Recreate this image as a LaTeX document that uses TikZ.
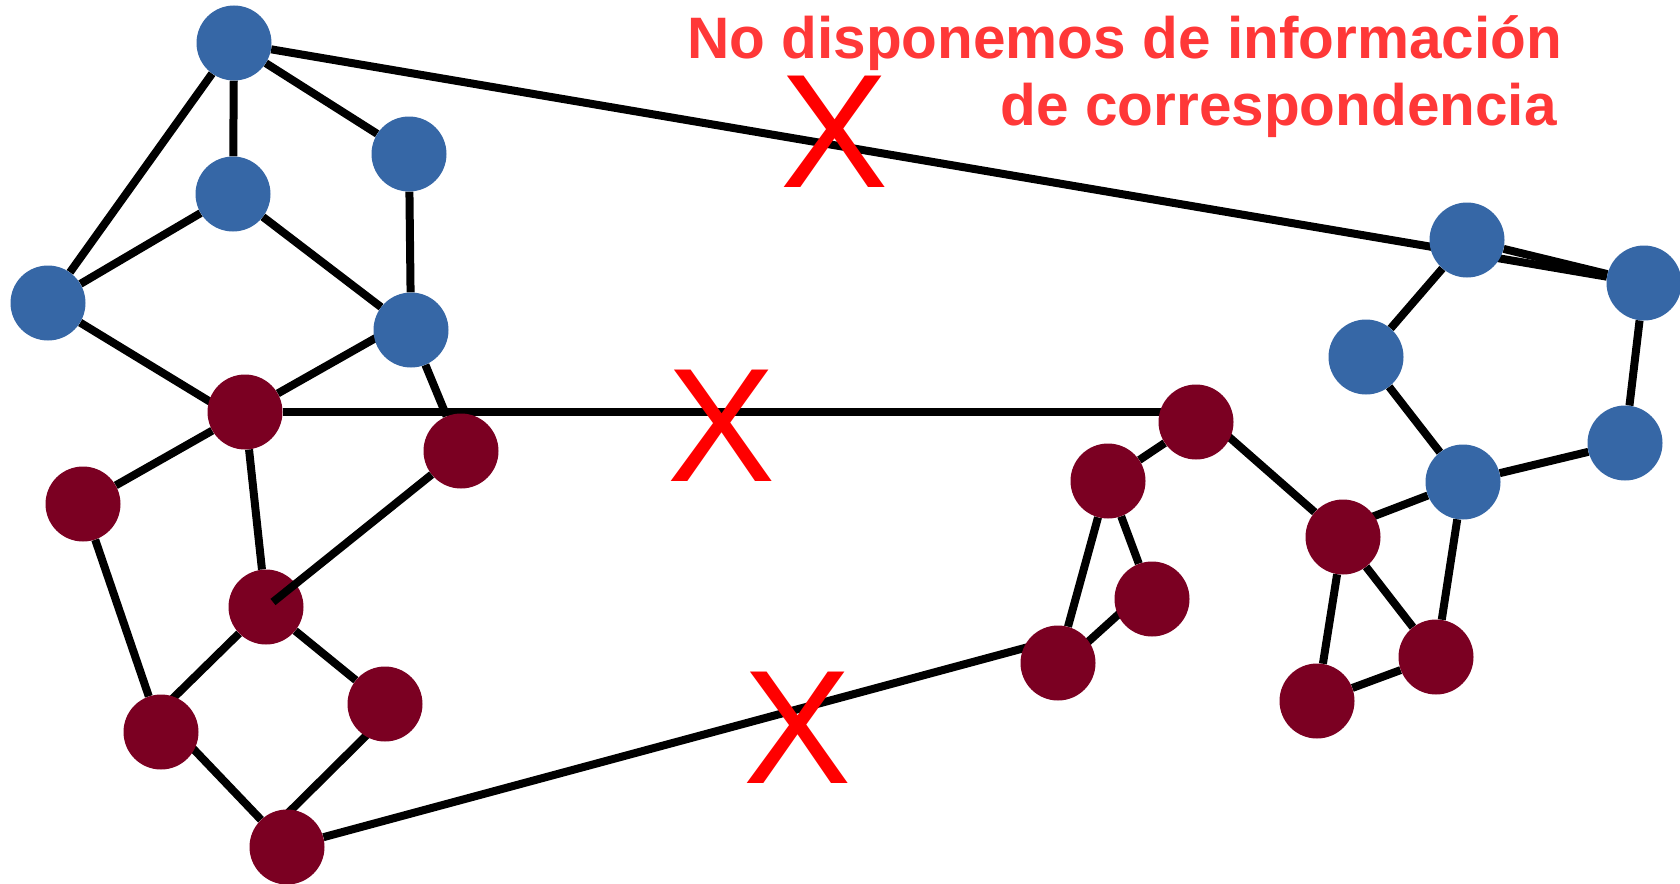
\documentclass[tikz,border=0pt]{standalone}
\usepackage{fontspec}
\setmainfont{Liberation Sans}
\usetikzlibrary{backgrounds, calc}

\definecolor{nodeblue}{RGB}{54,103,166}
\definecolor{nodered}{RGB}{123,0,34}
\definecolor{notered}{RGB}{255,56,56}

\begin{document}
\begin{tikzpicture}[x=1pt, y=-1pt,
    bluedot/.style={circle, fill=nodeblue, minimum size=75pt, inner sep=0pt},
    reddot/.style={circle, fill=nodered, minimum size=75pt, inner sep=0pt},
    link/.style={line width=8pt},
    cross/.style={text=red, inner sep=0pt, font=\fontsize{162}{162}\selectfont},
    note/.style={text=notered, inner sep=0pt, anchor=base east, font=\bfseries\fontsize{58.5}{66}\selectfont}]

    \useasboundingbox (0,0) rectangle (1680,883);

    % Blue graph, left
    \node [bluedot] (B1) at (234,43) {};
    \node [bluedot] (B2) at (409,154) {};
    \node [bluedot] (B3) at (233,194) {};
    \node [bluedot] (B4) at (48,303) {};
    \node [bluedot] (B5) at (411,330) {};

    % Blue graph, right
    \node [bluedot] (B6) at (1467,240) {};
    \node [bluedot] (B7) at (1644,283) {};
    \node [bluedot] (B8) at (1366,357) {};
    \node [bluedot] (B9) at (1625,443) {};
    \node [bluedot] (B10) at (1463,482) {};

    % Red graph, left
    \node [reddot] (R1) at (245,412) {};
    \node [reddot] (R2) at (461,451) {};
    \node [reddot] (R3) at (83,504) {};
    \node [reddot] (R4) at (266,607) {};
    \node [reddot] (R5) at (385,704) {};
    \node [reddot] (R6) at (161,732) {};
    \node [reddot] (R7) at (287,847) {};

    % Red graph, right
    \node [reddot] (R8) at (1196,422) {};
    \node [reddot] (R9) at (1108,481) {};
    \node [reddot] (R10) at (1152,599) {};
    \node [reddot] (R11) at (1058,663) {};
    \node [reddot] (R12) at (1343,537) {};
    \node [reddot] (R13) at (1436,657) {};
    \node [reddot] (R14) at (1317,701) {};

    \coordinate (r4end) at (273,602);
    \coordinate (r11end) at (1058,639);

    % Edges
    \begin{pgfonlayer}{background}
        \draw [link] (B1) -- (B2);
        \draw [link] (B1) -- (B3);
        \draw [link] (B1) -- (B4);
        \draw [link] (B3) -- (B4);
        \draw [link] (B3) -- (B5);
        \draw [link] (B2) -- (B5);
        \draw [link] (B4) -- ($(R1)+(0,11)$);
        \draw [link] ($(B5)+(0,-12)$) -- (R1);
        \draw [link] (B5) -- (R2);
        \draw [link] (B1) -- (B7);
        \draw [link] (B6) -- (B7);
        \draw [link] (B6) -- (B8);
        \draw [link] (B8) -- (B10);
        \draw [link] (B7) -- (B9);
        \draw [link] (B9) -- (B10);

        \draw [link] (R1) -- (R1 -| R8);
        \draw [link] (R1) -- (R3);
        \draw [link] (R1) -- (R4);
        \draw [link] (R3) -- (R6);
        \draw [link] (R4) -- ($(R6)+(0,-22)$);
        \draw [link] (R4) -- (R5);
        \draw [link] ($(R6)+(0,-17)$) -- (R7);
        \draw [link] ($(R5)+(0,13)$) -- ($(R7)+(-9,-24)$);
        \draw [link] (R7) -- (r11end);

        \draw [link] (R8) -- (R9);
        \draw [link] (R9) -- (R10);
        \draw [link] (R9) -- (R11);
        \draw [link] ($(R10)+(0,-15)$) -- ($(R11)+(0,6)$);
        \draw [link] ($(R8)+(0,-14)$) -- (R12);
        \draw [link] (R12) -- (R14);
        \draw [link] (R12) -- (R13);
        \draw [link] (R13) -- (R14);
        \draw [link] ($(R12)+(0,-9)$) -- (B10);
        \draw [link] (B10) -- (R13);
    \end{pgfonlayer}
    \draw [link] (R2) -- (r4end);

    % Crosses
    \node [cross] (X1) at (835,132) {X};
    \node [cross] (X2) at (722,426) {X};
    \node [cross] (X3) at (798,728) {X};

    % Note
    \node [note] (title1) at (1562,59) {No disponemos de información};
    \node [note] (title2) at (1557,125) {de correspondencia};

\end{tikzpicture}
\end{document}
